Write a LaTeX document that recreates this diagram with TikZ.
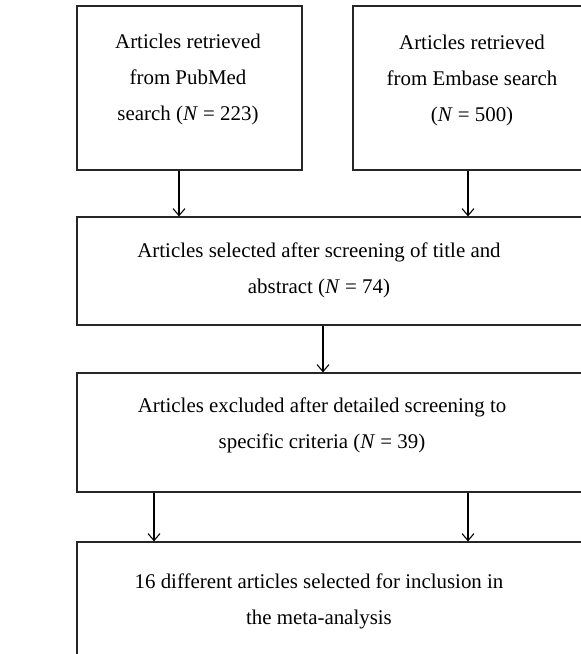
\documentclass[tikz,border=0pt]{standalone}
\usepackage{fontspec}
\setmainfont{Liberation Serif}
\usepackage{tikz}
\usetikzlibrary{arrows.meta, positioning, calc}

\begin{document}
\begin{tikzpicture}[x=1pt, y=-1pt,
    box/.style={draw=black!85, line width=1.2pt, rectangle, inner sep=0pt},
    label/.style={align=center, font=\fontsize{20.9pt}{36pt}\selectfont},
    arr/.style={-{Straight Barb[length=7pt, width=12pt]}, line width=1.1pt}]
    \useasboundingbox (0,0) rectangle (581,654);
    \clip (0,0) rectangle (581,654);

    % Search results
    \node[box, minimum width=225pt, minimum height=164pt] (pubmed) at (189.5,88) {};
    \node[label] (pubmedtxt) at (188,79) {Articles retrieved\\from PubMed\\search (\textit{N} = 223)};

    \node[box, minimum width=247pt, minimum height=164pt] (embase) at (476.5,88) {};
    \node[label] (embasetxt) at (472,80) {Articles retrieved\\from Embase search\\(\textit{N} = 500)};

    % Screening
    \node[box, minimum width=523pt, minimum height=108pt] (screened) at (338.5,271) {};
    \node[label] (screenedtxt) at (319,270) {Articles selected after screening of title and\\abstract (\textit{N} = 74)};

    \node[box, minimum width=523pt, minimum height=119pt] (excluded) at (338.5,432.5) {};
    \node[label] (excludedtxt) at (322,425) {Articles excluded after detailed screening to\\specific criteria (\textit{N} = 39)};

    % Inclusion
    \node[box, minimum width=523pt, minimum height=158pt] (included) at (338.5,621) {};
    \node[label] (includedtxt) at (319,601) {16 different articles selected for inclusion in\\the meta-analysis};

    % Arrows
    \draw[arr] ([xshift=-10.5pt]pubmed.south) -- ([xshift=-10.5pt]pubmed.south |- screened.north);
    \draw[arr] ([xshift=-8.5pt]embase.south) -- ([xshift=-8.5pt]embase.south |- screened.north);
    \draw[arr] ([xshift=-15.5pt]screened.south) -- ([xshift=-15.5pt]screened.south |- excluded.north);
    \draw[arr] ([xshift=-184.5pt]excluded.south) -- ([xshift=-184.5pt]excluded.south |- included.north);
    \draw[arr] ([xshift=129.5pt]excluded.south) -- ([xshift=129.5pt]excluded.south |- included.north);
\end{tikzpicture}
\end{document}
